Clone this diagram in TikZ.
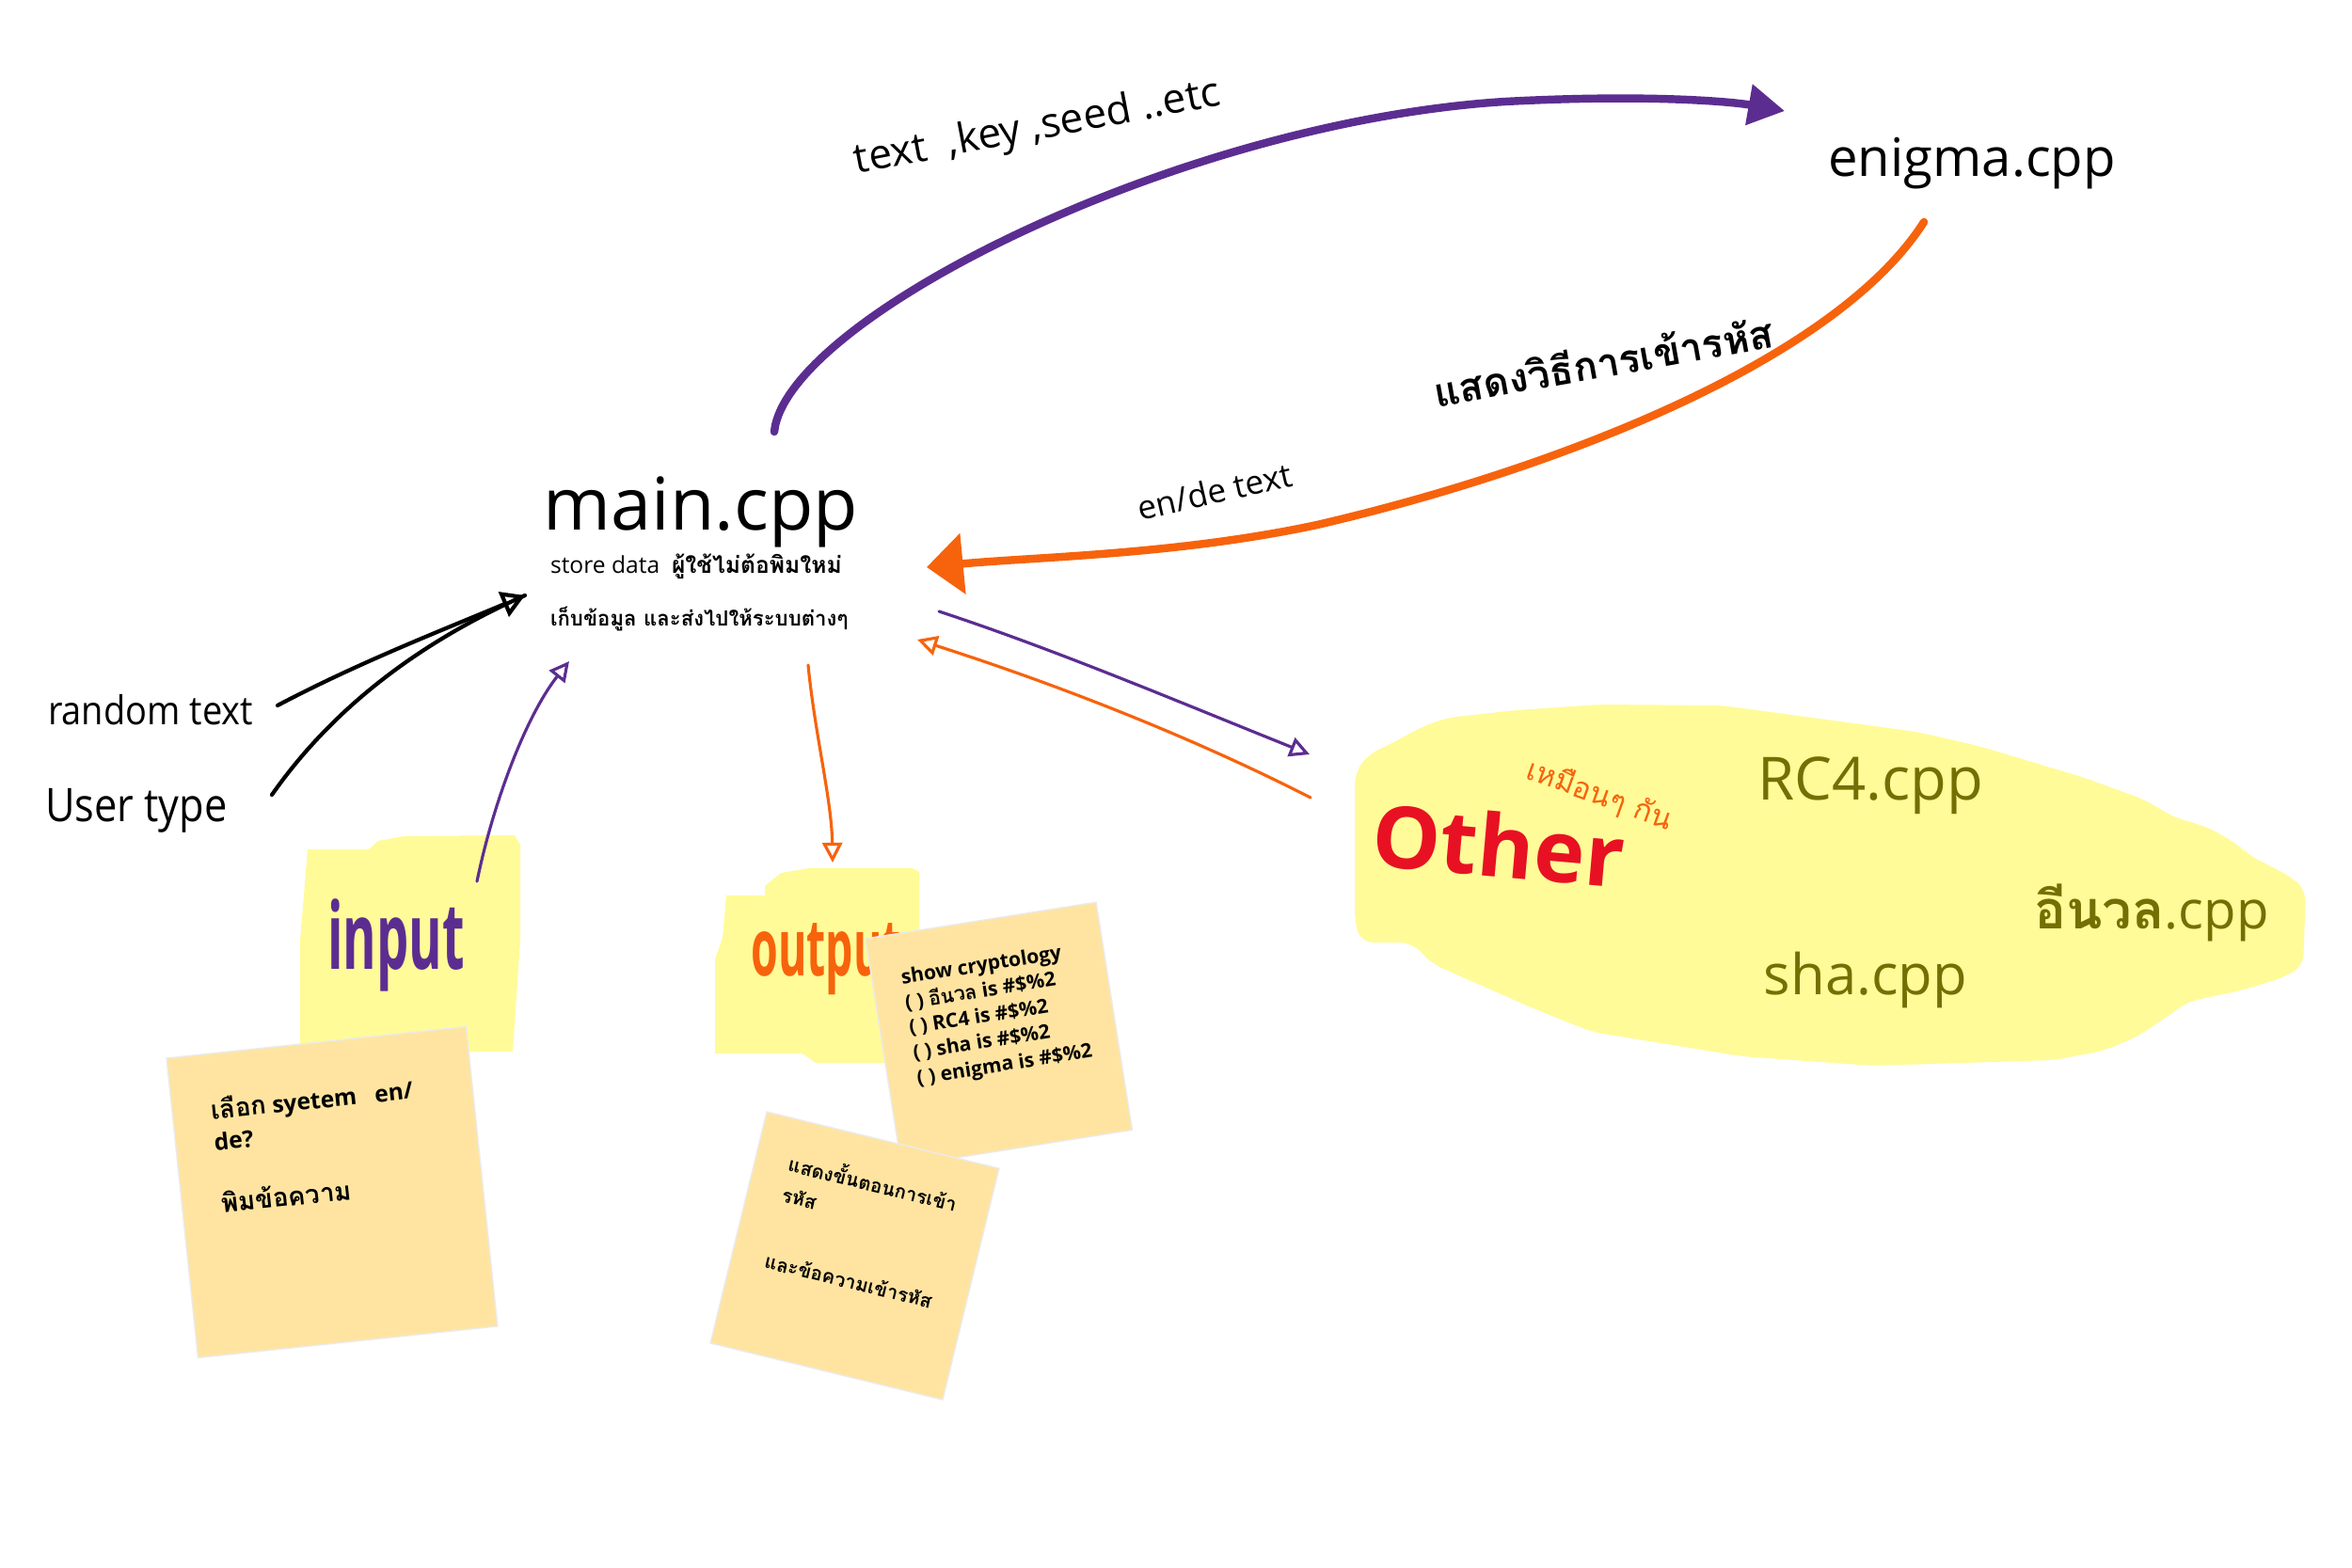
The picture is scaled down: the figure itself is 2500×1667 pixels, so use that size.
\documentclass[tikz,border=0pt]{standalone}
\usepackage{fontspec}
\setmainfont{Open Sans}
\newfontfamily\thai[Script=Thai]{Loma}
\usetikzlibrary{arrows.meta}
\definecolor{pur}{HTML}{5C2D91}
\definecolor{org}{HTML}{F7630C}
\definecolor{blob}{HTML}{FFFB99}
\definecolor{sticky}{HTML}{FFE4A1}
\definecolor{redo}{HTML}{E81123}
\definecolor{olive}{HTML}{746F02}
\newcommand\fsz[1]{\fontsize{#1pt}{#1pt}\selectfont}
\begin{document}
\begin{tikzpicture}[x=0.01cm, y=-0.01cm,
  lbl/.style={inner sep=0pt, outer sep=0pt},
  notebox/.style={fill=sticky, draw=black!8, line width=0.4pt, inner sep=0pt, outer sep=0pt, anchor=north west},
  notetxt/.style={inner sep=0pt, outer sep=0pt, anchor=base west, font=\fsz{7}\bfseries},
  notetxtthai/.style={inner sep=0pt, outer sep=0pt, anchor=base west, font=\fsz{5.8}\thai\bfseries},
  notetxtsmall/.style={inner sep=0pt, outer sep=0pt, anchor=base west, font=\fsz{6}\bfseries},
  bigarc/.style={line width=2.4pt, line cap=round, line join=round},
  thinarr/.style={line width=0.9pt, line cap=round, -{Triangle[open,length=6pt,width=6pt]}},
]
\fill[white] (0,0) rectangle (2500,1667);
\useasboundingbox (0,0) rectangle (2500,1667);

% ---------- yellow blobs ----------
\fill[blob, rounded corners=0.12cm] (1440,823) -- (1453,803) -- (1480,790) -- (1513,772) -- (1539,763) -- (1612,755) -- (1700,749) -- (1830,750) -- (1904,760) -- (2037,778) -- (2103,793) -- (2216,827) -- (2279,850) -- (2309,868) -- (2348,880) -- (2382,900) -- (2388,908) -- (2435,932) -- (2451,947) -- (2448,1027) -- (2425,1040) -- (2382,1053) -- (2325,1065) -- (2309,1077) -- (2272,1102) -- (2236,1117) -- (2183,1127) -- (1990,1133) -- (1851,1123) -- (1692,1097) -- (1632,1073) -- (1523,1025) -- (1500,1002) -- (1447,1002) -- (1440,980) -- cycle;
\fill[blob] (327,903) -- (392,903) -- (402,894) -- (430,889) -- (547,888) -- (553,898) -- (553,1000) -- (545,1118) -- (319,1118) -- (319,1000) -- cycle;
\fill[blob] (772,952) -- (813,952) -- (813,942) -- (830,928) -- (860,923) -- (970,923) -- (977,927) -- (977,1130) -- (867,1130) -- (853,1120) -- (760,1120) -- (760,1020) -- (768,997) -- cycle;

% ---------- labels on blobs ----------
\node[lbl, anchor=base, font=\fsz{28}\bfseries, text=pur, xscale=0.55] (inlbl) at (421,1030) {input};
\node[lbl, anchor=base, font=\fsz{24}\bfseries, text=org, xscale=0.55] (outlbl) at (878,1037) {output};
\node[lbl, anchor=base, font=\fsz{26}\bfseries, text=redo, rotate=-5] (other) at (1590,932) {Other};
\node[lbl, font=\fsz{9}\thai, text=org, rotate=-20] (same) at (1700,845) {เหมือนๆ กัน};
\node[lbl, anchor=base, font=\fsz{18}, text=olive] (rc4) at (1988,850) {RC4.cpp};
\node[lbl, anchor=base, font=\fsz{17}, text=olive] (sha) at (1983,1057) {sha.cpp};
\node[lbl, anchor=base, font=\fsz{16}, text=olive] (eenuan) at (2287,987) {{\thai\bfseries อีนวล}.cpp};

% ---------- sticky notes ----------
\begin{scope}[shift={(177,1125)}, rotate=6, transform shape]
  \node[notebox, minimum width=3.2cm, minimum height=3.2cm] (note1) at (0,0) {};
  \node[notetxt] (n1a) at (41,70) {{\fsz{7.8}\thai เลือก} syetem \ \ en/};
  \node[notetxt] (n1b) at (41,103) {de?};
  \node[notetxt] (n1c) at (42,170) {\fsz{7.8}\thai พิมข้อความ};
\end{scope}
\begin{scope}[shift={(920,998)}, rotate=9, transform shape]
  \node[notebox, minimum width=2.48cm, minimum height=2.45cm] (note2) at (0,0) {};
  \node[notetxtsmall] (n2a) at (31,54) {show cryptology};
  \node[notetxtsmall] (n2b) at (31,81) {( ) {\thai อีนวล} is \#\$\%2};
  \node[notetxtsmall] (n2c) at (31,108) {( ) RC4 is \#\$\%2};
  \node[notetxtsmall] (n2d) at (31,135) {( ) sha is \#\$\%2};
  \node[notetxtsmall] (n2e) at (31,162) {( ) enigma is \#\$\%2};
\end{scope}
\begin{scope}[shift={(815,1182)}, rotate=-13.7, transform shape]
  \node[notebox, minimum width=2.54cm, minimum height=2.53cm] (note3) at (0,0) {};
  \node[notetxtthai] (n3a) at (36,56) {แสดงขั้นตอนการเข้า};
  \node[notetxtthai] (n3b) at (37,89) {รหัส};
  \node[notetxtthai] (n3c) at (36,162) {และข้อความเข้ารหัส};
\end{scope}

% ---------- main texts ----------
\node[lbl, anchor=base, font=\fsz{22}] (main) at (745,563) {main.cpp};
\node[lbl, anchor=base west, font=\fsz{7}] (store) at (585,610) {store data\ \ {\thai\bfseries ผู้ใช้ไม่ต้อพิมใหม่}};
\node[lbl, anchor=base west, font=\fsz{6.3}\thai\bfseries] (keep) at (585,665) {เก็บข้อมูล และส่งไปให้ระบบต่างๆ};
\node[lbl, anchor=base, font=\fsz{16}] (enigma) at (2096,188) {enigma.cpp};
\node[lbl, anchor=base, font=\fsz{12.5}, rotate=10.7] (tks) at (1105,148) {text \ ,key ,seed ..etc};
\node[lbl, anchor=base, font=\fsz{10}, rotate=13] (ende) at (1294,535) {en/de text};
\node[lbl, anchor=base, font=\fsz{12}\thai\bfseries, rotate=10.1] (show) at (1707,401) {แสดงวิธีการเข้ารหัส};
\node[lbl, anchor=base, font=\fsz{12}, xscale=0.9] (rt) at (160,770) {random text};
\node[lbl, anchor=base, font=\fsz{14}, xscale=0.88] (ut) at (145,873) {User type};

% ---------- connector end points ----------
\coordinate (pA) at (823,459);
\coordinate (pB) at (1897,118);
\coordinate (qA) at (2045,236);
\coordinate (qB) at (985,603);
\coordinate (r1) at (295,750);
\coordinate (u1) at (289,845);
\coordinate (bTip) at (558,633);
\coordinate (inS) at (507,937);
\coordinate (inT) at (605,703);
\coordinate (outS) at (859,707);
\coordinate (outT) at (885,917);
\coordinate (toS) at (998,650);
\coordinate (toT) at (1392,802);
\coordinate (frS) at (1393,848);
\coordinate (frT) at (975,680);

% ---------- connectors ----------
\draw[bigarc, pur, -{Triangle[length=11pt,width=12pt]}] (pA) .. controls (835,340) and (1250,130) .. (1600,108) .. controls (1750,100) and (1840,108) .. (pB);
\draw[bigarc, org, -{Triangle[length=11pt,width=18pt]}] (qA) .. controls (1950,385) and (1650,500) .. (1400,558) .. controls (1250,590) and (1100,592) .. (qB);
\draw[line width=1.2pt, line cap=round, -{Triangle[open,length=7pt,width=8pt]}] (r1) .. controls (380,705) and (470,670) .. (bTip);
\draw[line width=1.2pt, line cap=round] (u1) .. controls (345,765) and (430,690) .. (bTip);
\draw[thinarr, pur] (inS) .. controls (525,850) and (560,760) .. (inT);
\draw[thinarr, org] (outS) .. controls (866,780) and (884,850) .. (outT);
\draw[thinarr, pur] (toS) .. controls (1120,690) and (1250,745) .. (toT);
\draw[thinarr, org] (frS) .. controls (1250,775) and (1100,720) .. (frT);
\end{tikzpicture}
\end{document}
